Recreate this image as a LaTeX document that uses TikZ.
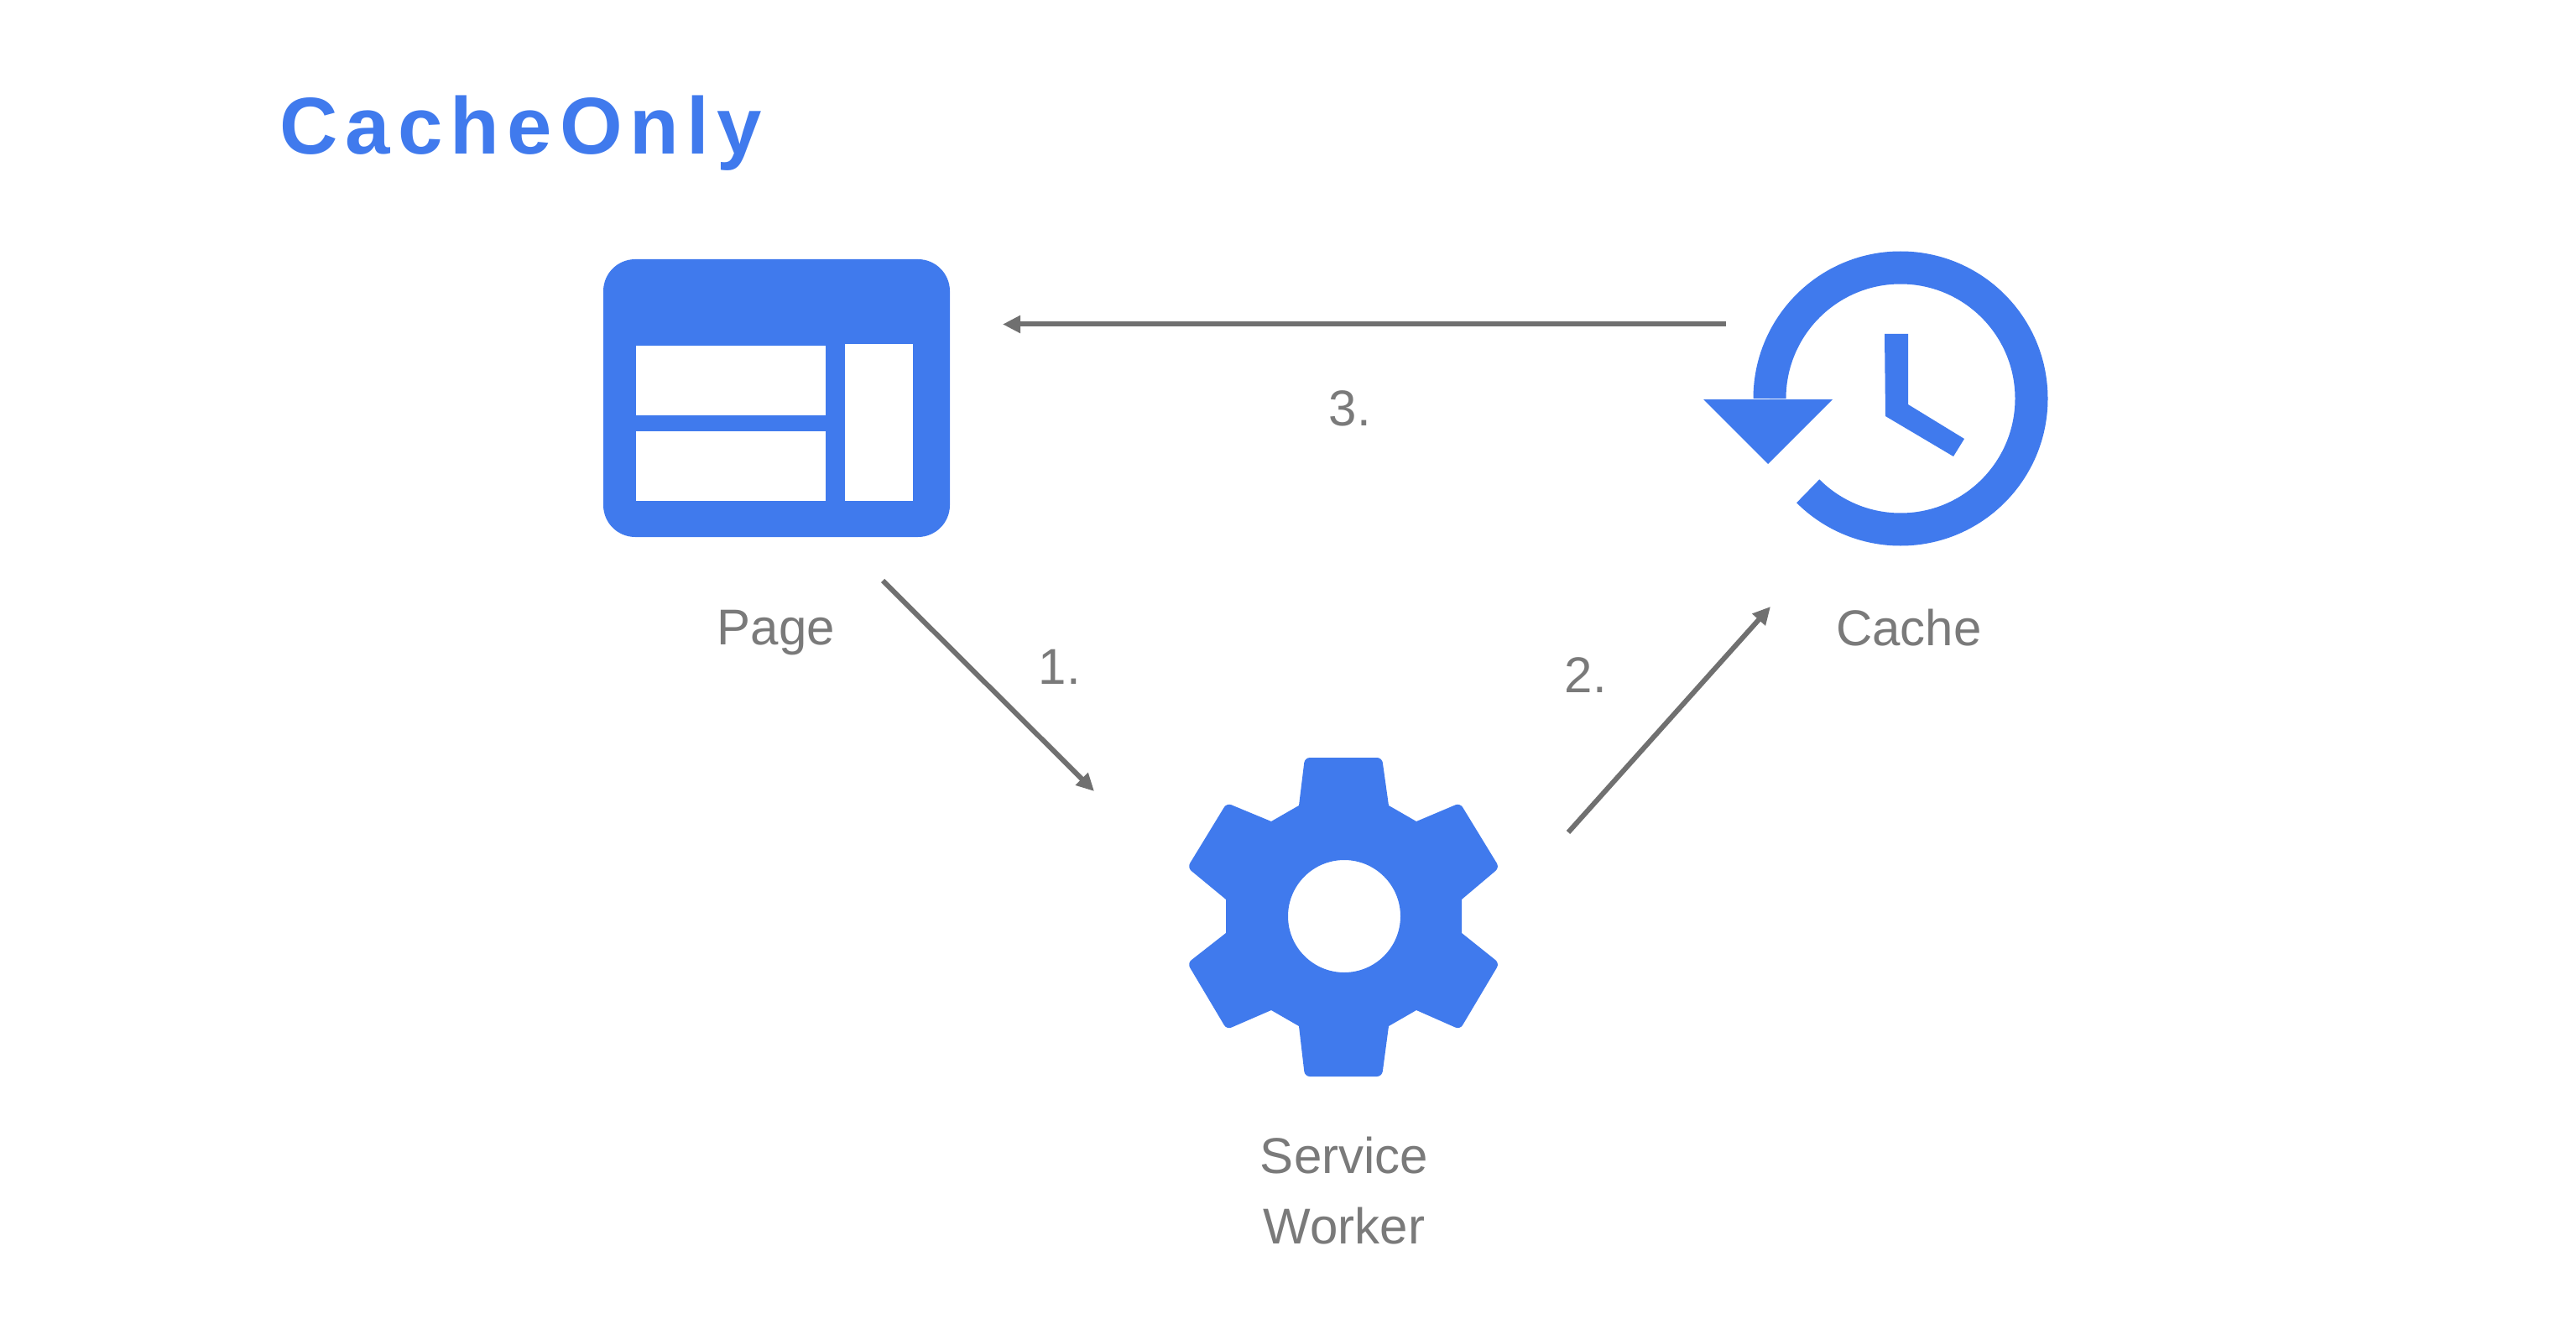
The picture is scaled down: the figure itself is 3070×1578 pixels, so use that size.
\documentclass[tikz,border=0pt]{standalone}
\usepackage{fontspec}
\setmainfont{Liberation Sans}
\usetikzlibrary{arrows.meta}
\definecolor{iconblue}{HTML}{407AED}
\definecolor{flowgray}{HTML}{707070}
\definecolor{textgray}{HTML}{7A7A7A}
\tikzset{
  >={Stealth[length=10.5pt,width=10pt,inset=0pt]},
  flow/.style={->, flowgray, line width=3pt},
  caption/.style={anchor=base, text=textgray, inner sep=0pt, font=\fontsize{30}{42}\selectfont, align=center},
  heading/.style={anchor=base west, text=iconblue, inner sep=0pt,
    font=\fontsize{48}{58}\selectfont\bfseries\addfontfeatures{LetterSpace=9.5}},
  pagebox/.style={fill=iconblue, rounded corners=19pt, minimum width=206.5pt, minimum height=165.5pt, inner sep=0pt},
  pane/.style={fill=white},
  tip/.style={rounded corners=3pt},
}

\begin{document}
\begin{tikzpicture}[x=0.5pt,y=-0.5pt]
      \useasboundingbox (0,0) rectangle (3070,1578);

      \node[heading] (title) at (333,184) {CacheOnly};

      % page
      \node[pagebox] (pageicon) at (925.5,474.5) {};
      \fill[pane] (758,412) rectangle (984,495);
      \fill[pane] (758,514) rectangle (984,597);
      \fill[pane] (1007,410) rectangle (1088,597);

      % cache
      \draw[iconblue, line width=19.5pt] (2109,475) arc[start angle=180, end angle=495, radius=156];
      \fill[iconblue] (2030,476) -- (2184,476) -- (2107,553) -- cycle;
      \fill[iconblue] (2246,398) -- (2274,398) -- (2274,482) -- (2341,523) -- (2328,544) -- (2247,496) -- cycle;

      % service worker
      \fill[iconblue, even odd rule]
            (1548,960) [tip] -- (1555,903) -- (1647,903) [sharp corners] -- (1655,960) -- (1688,979)
            [tip] -- (1740,957) -- (1787,1034) [sharp corners] -- (1742,1072) -- (1742,1112)
            [tip] -- (1787,1148) -- (1740,1227) [sharp corners] -- (1688,1204) -- (1655,1223)
            [tip] -- (1647,1283) -- (1555,1283) [sharp corners] -- (1548,1223) -- (1515,1204)
            [tip] -- (1462,1227) -- (1415,1148) [sharp corners] -- (1461,1112) -- (1461,1072)
            [tip] -- (1415,1034) -- (1462,957) [sharp corners] -- (1515,979) -- cycle
            (1602,1092) circle[radius=67];

      \node[caption] (pagetext)  at (925,768)   {Page};
      \node[caption] (cachetext) at (2275,769)  {Cache};
      \node[caption, anchor=north] (workertext) at (1602,1355) {Service\\Worker};

      \node[caption] (one)   at (1263,815) {1.};
      \node[caption] (two)   at (1890,825) {2.};
      \node[caption] (three) at (1609,507) {3.};

      \coordinate (pageout)   at (1052,692);
      \coordinate (workerin)  at (1304,943);
      \coordinate (workerout) at (1869,992);
      \coordinate (cachein)   at (2110,723);
      \coordinate (cacheout)  at (2057,386.5);
      \coordinate (pagein)    at (1195,386.5);

      \draw[flow] (pageout)   -- (workerin);
      \draw[flow] (workerout) -- (cachein);
      \draw[flow] (cacheout)  -- (pagein);
\end{tikzpicture}
\end{document}
